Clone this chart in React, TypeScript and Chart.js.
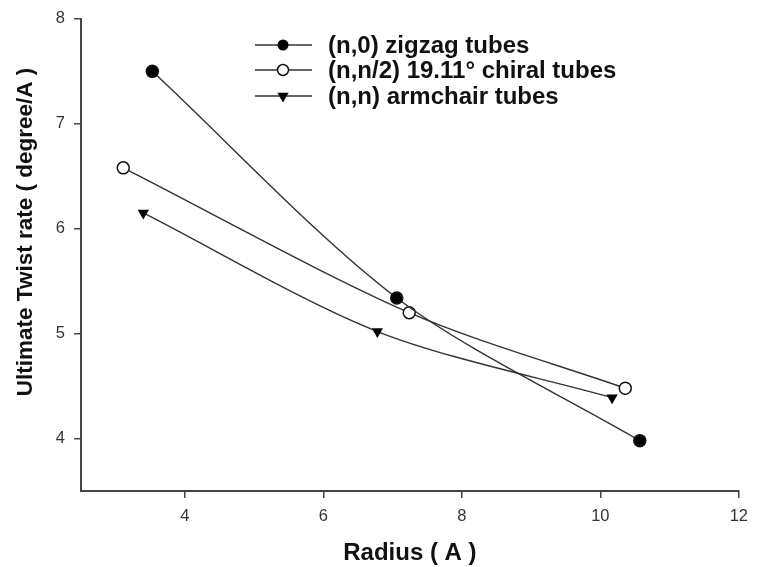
import React, { useEffect, useRef } from "react";
import { Chart, registerables } from "chart.js";

Chart.register(...registerables);

const zigzagX = [3.53, 7.06, 10.57];
const zigzagY = [7.5, 5.34, 3.98];
const chiralX = [3.11, 7.24, 10.36];
const chiralY = [6.58, 5.2, 4.48];
const armchairX = [3.4, 6.78, 10.17];
const armchairY = [6.15, 5.02, 4.39];

const seriesLabels = [
  "(n,0) zigzag tubes",
  "(n,n/2) 19.11° chiral tubes",
  "(n,n) armchair tubes",
];
const xTicks = [4, 6, 8, 10, 12];
const yTicks = [4, 5, 6, 7, 8];
const xTitle = "Radius ( A )";
const yTitle = "Ultimate Twist rate ( degree/A )";

const LINE = "#333333";
const FONT = "'Liberation Sans', Arial, sans-serif";

function pts(xs: number[], ys: number[]) {
  return xs.map((x, i) => ({ x, y: ys[i] }));
}

function drawMarker(ctx: CanvasRenderingContext2D, kind: number, x: number, y: number) {
  ctx.save();
  ctx.lineWidth = 1.5;
  ctx.strokeStyle = "#111";
  ctx.beginPath();
  if (kind === 0) {
    ctx.arc(x, y, 5.5, 0, Math.PI * 2);
    ctx.fillStyle = "#000";
    ctx.fill();
  } else if (kind === 1) {
    ctx.arc(x, y, 5.5, 0, Math.PI * 2);
    ctx.fillStyle = "#fff";
    ctx.fill();
    ctx.stroke();
  } else {
    const r = 6.5;
    for (let k = 0; k < 3; k++) {
      const a = Math.PI + (k * 2 * Math.PI) / 3;
      const px = x + Math.sin(a) * r;
      const py = y - Math.cos(a) * r;
      if (k === 0) ctx.moveTo(px, py);
      else ctx.lineTo(px, py);
    }
    ctx.closePath();
    ctx.fillStyle = "#000";
    ctx.fill();
  }
  ctx.restore();
}

const overlayPlugin = {
  id: "overlay",
  afterDraw(chart: any) {
    const ctx: CanvasRenderingContext2D = chart.ctx;
    const area = chart.chartArea;
    ctx.save();
    ctx.fillStyle = "#111";
    // axis titles
    ctx.font = `bold 24px ${FONT}`;
    ctx.textAlign = "center";
    ctx.textBaseline = "alphabetic";
    ctx.fillText(xTitle, (area.left + area.right) / 2, 560);
    ctx.save();
    ctx.translate(32, 232);
    ctx.rotate(-Math.PI / 2);
    ctx.font = `bold 22.5px ${FONT}`;
    ctx.fillText(yTitle, 0, 0);
    ctx.restore();
    // legend
    const rows = [45, 70, 96];
    ctx.font = `bold 24px ${FONT}`;
    ctx.textAlign = "left";
    ctx.textBaseline = "middle";
    seriesLabels.forEach((lab, i) => {
      const y = rows[i];
      ctx.beginPath();
      ctx.strokeStyle = LINE;
      ctx.lineWidth = 1.5;
      ctx.moveTo(255, y);
      ctx.lineTo(312, y);
      ctx.stroke();
      drawMarker(ctx, i, 283, y);
      ctx.fillStyle = "#111";
      ctx.fillText(lab, 328, y + 1);
    });
    ctx.restore();
  },
};

export default function App() {
  const ref = useRef<HTMLCanvasElement | null>(null);
  useEffect(() => {
    if (!ref.current) return;
    const common = {
      borderColor: LINE,
      borderWidth: 1.4,
      tension: 0.3,
      pointBorderColor: "#111",
      pointBorderWidth: 1.5,
      showLine: true,
    };
    const chart = new Chart(ref.current, {
      type: "scatter",
      data: {
        datasets: [
          {
            ...common,
            label: seriesLabels[0],
            data: pts(zigzagX, zigzagY),
            pointStyle: "circle",
            pointRadius: 6,
            pointBackgroundColor: "#000",
          },
          {
            ...common,
            label: seriesLabels[1],
            data: pts(chiralX, chiralY),
            pointStyle: "circle",
            pointRadius: 6,
            pointBackgroundColor: "#fff",
          },
          {
            ...common,
            label: seriesLabels[2],
            data: pts(armchairX, armchairY),
            pointStyle: "triangle",
            pointRotation: 180,
            pointRadius: 6.5,
            pointBorderWidth: 0,
            pointBackgroundColor: "#000",
          },
        ],
      },
      options: {
        responsive: false,
        animation: false,
        layout: { autoPadding: false, padding: { left: 0, top: 17, right: 15, bottom: 0 } },
        plugins: { legend: { display: false }, tooltip: { enabled: false } },
        scales: {
          x: {
            type: "linear",
            min: 2.5,
            max: 12,
            afterFit: (s: any) => {
              s.height = 76;
            },
            afterBuildTicks: (s: any) => {
              s.ticks = xTicks.map((v) => ({ value: v }));
            },
            border: { display: true, color: "#444", width: 2 },
            grid: { drawOnChartArea: false, drawTicks: true, tickLength: 7, color: "#444", lineWidth: 1.5 },
            ticks: { padding: 9, color: "#333", font: { family: FONT, size: 16.5 } },
          },
          y: {
            type: "linear",
            min: 3.5,
            max: 8,
            afterFit: (s: any) => {
              s.width = 81;
            },
            afterBuildTicks: (s: any) => {
              s.ticks = yTicks.map((v) => ({ value: v }));
            },
            border: { display: true, color: "#444", width: 2 },
            grid: { drawOnChartArea: false, drawTicks: true, tickLength: 7, color: "#444", lineWidth: 1.5 },
            ticks: { padding: 9, color: "#333", font: { family: FONT, size: 16.5 } },
          },
        },
      },
      plugins: [overlayPlugin],
    } as any);
    return () => chart.destroy();
  }, []);
  return (
    <div style={{ position: "absolute", left: 0, top: 0, width: 757, height: 567, background: "#fff" }}>
      <canvas ref={ref} width={757} height={567} style={{ display: "block" }} />
    </div>
  );
}
